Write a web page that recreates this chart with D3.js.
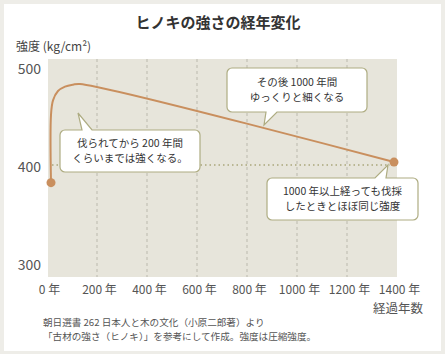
<!DOCTYPE html>
<html>
<head>
<meta charset="utf-8">
<script src="https://cdn.jsdelivr.net/npm/d3@7"></script>
<style>
  body { margin: 0; background: #eeede8; }
  text { font-family: "Noto Sans CJK JP", "Noto Sans", sans-serif; }
</style>
</head>
<body>
<div id="chart"></div>
<script>
const width = 445;
const height = 354;

// data: years after felling, strength (kg/cm2)
const years = [16, 16, 24, 44, 72, 104, 132, 1388];
const strength = [382, 451, 466, 475.5, 480, 482, 482.7, 403];
const markerIdx = [0, 7];

const xTicks = [0, 200, 400, 600, 800, 1000, 1200, 1400];
const yTicks = [300, 400, 500];
const gridYears = [200, 400, 600, 800, 1000, 1200];

const title = "ヒノキの強さの経年変化";
const yTitle = "強度 (kg/cm²)";
const xTitle = "経過年数";
const source = ["朝日選書 262 日本人と木の文化（小原二郎著）より",
                "「古材の強さ（ヒノキ）」を参考にして作成。強度は圧縮強度。"];

const notes = [
    { lines: ["その後 1000 年間", "ゆっくりと細くなる"], box: [227, 68, 140, 44], side: "bottom", base: [266, 277], tip: [264, 125] },
    { lines: ["伐られてから 200 年間", "くらいまでは強くなる。"], box: [60, 130, 140, 42], side: "top", base: [82, 92], tip: [78, 113] },
    { lines: ["1000 年以上経っても伐採", "したときとほぼ同じ強度"], box: [267, 178, 151, 42], side: "top", base: [375, 386], tip: [388, 165] }
];

const plot = { left: 48, right: 397, top: 59, bottom: 277 };

const x = d3.scaleLinear().domain([0, 1400]).range([47, 397]);
const y = d3.scaleLinear().domain([300, 500]).range([263, 67]);

const svg = d3.select("#chart")
    .append("svg")
    .attr("width", width)
    .attr("height", height);

// white card
svg.append("rect")
    .attr("x", 4).attr("y", 4)
    .attr("width", 437).attr("height", 347)
    .attr("fill", "#ffffff");

svg.append("text")
    .text(title)
    .attr("x", 218).attr("y", 28)
    .attr("text-anchor", "middle")
    .attr("font-size", 15)
    .attr("font-weight", "bold")
    .attr("fill", "#333");

svg.append("text")
    .text(yTitle)
    .attr("x", 16).attr("y", 51)
    .attr("font-size", 12)
    .attr("fill", "#444");

// plot background
svg.append("rect")
    .attr("x", plot.left).attr("y", plot.top)
    .attr("width", plot.right - plot.left)
    .attr("height", plot.bottom - plot.top)
    .attr("fill", "#e7e5db");

svg.append("g")
    .selectAll("line")
    .data(gridYears)
    .join("line")
    .attr("x1", d => x(d)).attr("x2", d => x(d))
    .attr("y1", plot.top).attr("y2", plot.bottom)
    .attr("stroke", "#bbb9ad")
    .attr("stroke-dasharray", "3,3");

// dotted reference line at 400
svg.append("line")
    .attr("x1", 52).attr("x2", 390)
    .attr("y1", y(400)).attr("y2", y(400))
    .attr("stroke", "#aaa67c")
    .attr("stroke-width", 1.5)
    .attr("stroke-dasharray", "1.5,3");

// y tick labels
svg.append("g")
    .selectAll("text")
    .data(yTicks)
    .join("text")
    .text(d => d)
    .attr("x", 41)
    .attr("y", d => y(d) + 2)
    .attr("dy", "0.35em")
    .attr("text-anchor", "end")
    .attr("font-size", 14)
    .attr("fill", "#555");

// x tick labels
svg.append("g")
    .selectAll("text")
    .data(xTicks)
    .join("text")
    .text(d => d + " 年")
    .attr("x", d => x(d) + 2.5)
    .attr("y", 294)
    .attr("text-anchor", "middle")
    .attr("font-size", 12)
    .attr("fill", "#555");

svg.append("text")
    .text(xTitle)
    .attr("x", 423).attr("y", 313)
    .attr("text-anchor", "end")
    .attr("font-size", 12.5)
    .attr("fill", "#555");

// source note
svg.append("g")
    .selectAll("text")
    .data(source)
    .join("text")
    .text(d => d)
    .attr("x", 43)
    .attr("y", (d, i) => 325.5 + i * 14)
    .attr("font-size", 9.6)
    .attr("fill", "#555");

// strength line
const pts = years.map((d, i) => [d, strength[i]]);
const line = d3.line()
    .x(d => x(d[0]))
    .y(d => y(d[1]))
    .curve(d3.curveCatmullRom.alpha(0.5));

svg.append("path")
    .datum(pts)
    .attr("d", line)
    .attr("fill", "none")
    .attr("stroke", "#c98f5e")
    .attr("stroke-width", 2);

svg.append("g")
    .selectAll("circle")
    .data(markerIdx)
    .join("circle")
    .attr("cx", i => x(years[i]))
    .attr("cy", i => y(strength[i]))
    .attr("r", 4.5)
    .attr("fill", "#c98f5e");

// callouts
function calloutPath(n) {
    const [bx, by, bw, bh] = n.box;
    const r = 5;
    const p = d3.path();
    p.moveTo(bx + r, by);
    if (n.side === "top") {
        p.lineTo(n.base[0], by);
        p.lineTo(n.tip[0], n.tip[1]);
        p.lineTo(n.base[1], by);
    }
    p.lineTo(bx + bw - r, by);
    p.arcTo(bx + bw, by, bx + bw, by + r, r);
    p.lineTo(bx + bw, by + bh - r);
    p.arcTo(bx + bw, by + bh, bx + bw - r, by + bh, r);
    if (n.side === "bottom") {
        p.lineTo(n.base[1], by + bh);
        p.lineTo(n.tip[0], n.tip[1]);
        p.lineTo(n.base[0], by + bh);
    }
    p.lineTo(bx + r, by + bh);
    p.arcTo(bx, by + bh, bx, by + bh - r, r);
    p.lineTo(bx, by + r);
    p.arcTo(bx, by, bx + r, by, r);
    p.closePath();
    return p.toString();
}

const callouts = svg.append("g")
    .selectAll("g")
    .data(notes)
    .join("g");

callouts.append("path")
    .attr("d", calloutPath)
    .attr("fill", "#ffffff")
    .attr("stroke", "#aeac82")
    .attr("stroke-width", 1.2);

const lineGap = 15.4;
callouts.each(function (n) {
    const [bx, by, bw, bh] = n.box;
    d3.select(this)
        .selectAll("text")
        .data(n.lines)
        .join("text")
        .text(d => d)
        .attr("x", bx + bw / 2)
        .attr("y", (d, i) => by + bh / 2 - lineGap / 2 + i * lineGap)
        .attr("dy", "0.35em")
        .attr("text-anchor", "middle")
        .attr("font-size", 10.5)
        .attr("fill", "#333");
});
</script>
</body>
</html>
